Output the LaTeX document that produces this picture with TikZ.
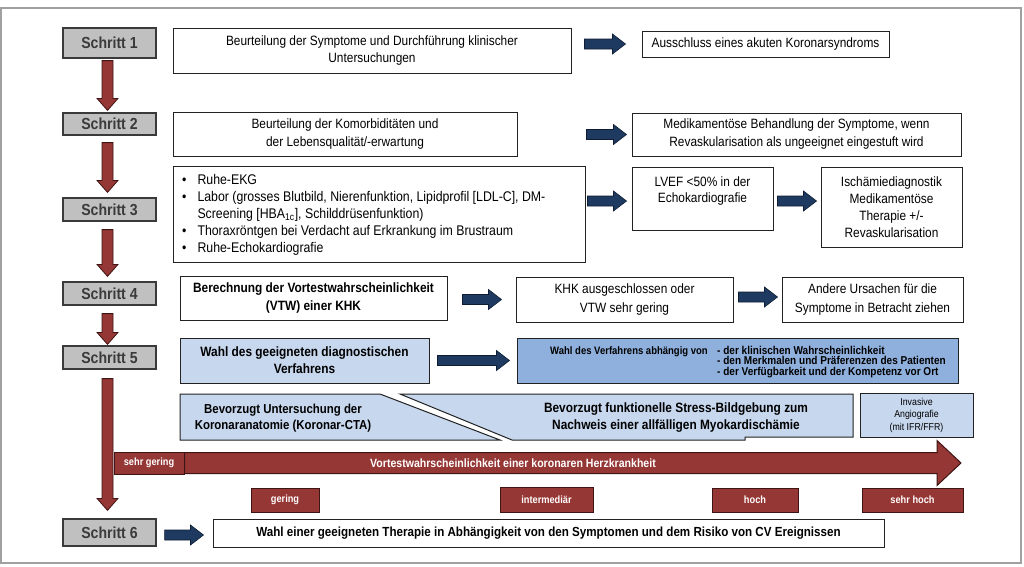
\documentclass[tikz,border=0pt]{standalone}
\usepackage{fontspec}
\setmainfont{Liberation Sans}[FakeStretch=0.88]
\usetikzlibrary{calc}
\definecolor{framec}{HTML}{A0A0A0}
\definecolor{stepfill}{HTML}{C0C0C0}
\definecolor{stepdraw}{HTML}{3A3A3A}
\definecolor{steptext}{HTML}{3A3A3A}
\definecolor{boxdraw}{HTML}{222222}
\definecolor{lblue}{HTML}{C6D7EE}
\definecolor{mblue}{HTML}{8FB0DD}
\definecolor{redf}{HTML}{953735}
\definecolor{redd}{HTML}{3F1414}
\definecolor{navy}{HTML}{1F3A60}
\definecolor{navyd}{HTML}{0E1D33}
\begin{document}
\begin{tikzpicture}[x=1pt,y=-1pt,
 schritt/.style={draw=stepdraw, fill=stepfill, line width=1.2pt, minimum width=93pt, inner sep=0pt, text=steptext, font=\fontsize{16}{18}\selectfont\bfseries},
 box/.style={draw=boxdraw, fill=white, line width=1pt, inner sep=0pt, align=center, font=\fontsize{13.5}{17}\selectfont},
 bbox/.style={box, font=\fontsize{13.5}{17}\selectfont\bfseries},
 lbbox/.style={bbox, fill=lblue},
 redbox/.style={draw=redd, fill=redf, line width=1pt, inner sep=0pt, minimum height=24pt, text=white, font=\fontsize{10.5}{12}\selectfont\bfseries},
 txt/.style={inner sep=0pt, align=center},
 fatblue/.style={fill=navy, draw=navyd, line width=0.6pt, to path={let \p1=(\tikztostart), \p2=(\tikztotarget) in
   ({\x1},{\y2+5pt}) -- ({\x2-13pt},{\y2+5pt}) -- ({\x2-13pt},{\y2+10pt}) -- ({\x2},{\y2}) -- ({\x2-13pt},{\y2-10pt}) -- ({\x2-13pt},{\y2-5pt}) -- ({\x1},{\y2-5pt}) -- cycle}},
 fatdown/.style={fill=redf, draw=redd, line width=0.8pt, to path={let \p1=(\tikztostart), \p2=(\tikztotarget) in
   ({\x1-5.5pt},{\y1}) -- ({\x1-5.5pt},{\y2+12pt}) -- ({\x1-10.5pt},{\y2+12pt}) -- ({\x1},{\y2}) -- ({\x1+10.5pt},{\y2+12pt}) -- ({\x1+5.5pt},{\y2+12pt}) -- ({\x1+5.5pt},{\y1}) -- cycle}},
 fatbig/.style={fill=redf, draw=redd, line width=1pt, to path={let \p1=(\tikztostart), \p2=(\tikztotarget) in
   ({\x1},{\y1+10.5pt}) -- ({\x2-24pt},{\y1+10.5pt}) -- ({\x2-24pt},{\y1+22.5pt}) -- ({\x2},{\y1}) -- ({\x2-24pt},{\y1-22.5pt}) -- ({\x2-24pt},{\y1-10.5pt}) -- ({\x1},{\y1-10.5pt}) -- cycle}}
]
\useasboundingbox (0,0) rectangle (1024,566);
\draw[framec, line width=1.5pt] (1,8) rectangle (1021,563);

% Schritt nodes
\node[schritt, minimum height=30pt] (s1) at (109.5,43) {Schritt 1};
\node[schritt, minimum height=22pt] (s2) at (109.5,124) {Schritt 2};
\node[schritt, minimum height=23pt] (s3) at (109.5,209.5) {Schritt 3};
\node[schritt, minimum height=23pt] (s4) at (109.5,293.5) {Schritt 4};
\node[schritt, minimum height=23pt] (s5) at (109.5,357.5) {Schritt 5};
\node[schritt, minimum height=27pt] (s6) at (109.5,532.5) {Schritt 6};

% row 1
\node[box, minimum width=398pt, minimum height=45pt] (b1) at (372,50.5) {Beurteilung der Symptome und Durchführung klinischer\\Untersuchungen};
\node[box, minimum width=247pt, minimum height=26pt] (aus) at (765.5,44) {Ausschluss eines akuten Koronarsyndroms};
% row 2
\node[box, minimum width=344pt, minimum height=44pt, font=\fontsize{13.5}{18}\selectfont] (b2) at (345,134) {Beurteilung der Komorbiditäten und\\der Lebensqualität/-erwartung};
\node[box, minimum width=329pt, minimum height=43pt, font=\fontsize{13.5}{18}\selectfont] (med) at (796.5,134.5) {Medikamentöse Behandlung der Symptome, wenn\\Revaskularisation als ungeeignet eingestuft wird};
% row 3
\node[box, minimum width=412pt, minimum height=96pt] (bul) at (379,214) {};
\node[txt, anchor=west, align=left, font=\fontsize{14}{17}\selectfont] (bulT) at (182,215) {\begin{tabular}{@{}l@{\hspace{11pt}}l@{}}
\textbullet & Ruhe-EKG\\
\textbullet & Labor (grosses Blutbild, Nierenfunktion, Lipidprofil [LDL-C], DM-\\
 & Screening [HBA\textsubscript{1c}], Schilddrüsenfunktion)\\
\textbullet & Thoraxröntgen bei Verdacht auf Erkrankung im Brustraum\\
\textbullet & Ruhe-Echokardiografie
\end{tabular}};
\node[box, minimum width=141pt, minimum height=63pt] (lvef) at (702.5,198.5) {};
\node[txt, font=\fontsize{13.5}{16}\selectfont] (lvefT) at (702.5,191) {LVEF <50\% in der\\Echokardiografie};
\node[box, minimum width=141pt, minimum height=80pt] (isch) at (891.5,207) {Ischämiediagnostik\\Medikamentöse\\Therapie +/-\\Revaskularisation};
% row 4
\node[bbox, minimum width=267pt, minimum height=44pt, font=\fontsize{13.5}{18.5}\selectfont\bfseries] (ber) at (313.5,298) {Berechnung der Vortestwahrscheinlichkeit\\(VTW) einer KHK};
\node[box, minimum width=217pt, minimum height=45pt, font=\fontsize{13.5}{18.5}\selectfont] (khk) at (624.5,299.5) {KHK ausgeschlossen oder\\VTW sehr gering};
\node[box, minimum width=181pt, minimum height=45pt, font=\fontsize{13.5}{18.5}\selectfont] (and) at (872.5,299.5) {Andere Ursachen für die\\Symptome in Betracht ziehen};
% row 5
\node[lbbox, minimum width=249pt, minimum height=45pt] (wahl) at (304.5,360.5) {Wahl des geeigneten diagnostischen\\Verfahrens};
\node[box, fill=mblue, minimum width=441pt, minimum height=45pt] (verf) at (737.5,360.5) {};
\node[txt, anchor=west, font=\fontsize{10.8}{10.5}\selectfont\bfseries] (verfA) at (550,352) {Wahl des Verfahrens abhängig von};
\node[txt, anchor=north west, align=left, font=\fontsize{11.4}{10.5}\selectfont\bfseries] (verfB) at (717,346) {- der klinischen Wahrscheinlichkeit\\- den Merkmalen und Präferenzen des Patienten\\- der Verfügbarkeit und der Kompetenz vor Ort};
% preferred procedures
\filldraw[fill=lblue, draw=boxdraw, line width=1pt] (180,394) -- (380,394) -- (500,440) -- (180,440) -- cycle;
\filldraw[fill=lblue, draw=boxdraw, line width=1pt] (400,394) -- (853,394) -- (853,437) -- (745,437) -- (745,440) -- (512,440) -- cycle;
\node[txt, font=\fontsize{13}{16.5}\selectfont\bfseries] (bevL) at (283,418) {Bevorzugt Untersuchung der\\Koronaranatomie (Koronar-CTA)};
\node[txt, font=\fontsize{13.5}{17}\selectfont\bfseries] (bevR) at (676,418) {Bevorzugt funktionelle Stress-Bildgebung zum\\Nachweis einer allfälligen Myokardischämie};
\node[box, fill=lblue, minimum width=113pt, minimum height=44pt, font=\fontsize{10}{12.5}\selectfont] (inv) at (916.5,415) {Invasive\\Angiografie\\(mit IFR/FFR)};
% probability arrow
\node[redbox, minimum width=70pt, minimum height=22pt] (sg) at (149,463) {sehr gering};
\coordinate (tip) at (961,463);
\draw[fatbig] (sg.east) to (tip);
\node[txt, text=white, font=\fontsize{12}{14}\selectfont\bfseries] (vtw) at (513,463) {Vortestwahrscheinlichkeit einer koronaren Herzkrankheit};
\node[redbox, minimum width=68pt] (ger) at (285,500) {gering};
\node[redbox, minimum width=93pt, minimum height=25pt] (int) at (546.5,499.5) {intermediär};
\node[redbox, minimum width=86pt] (hoch) at (755,500) {hoch};
\node[redbox, minimum width=101pt] (shoch) at (912.5,500) {sehr hoch};
% row 6
\node[bbox, minimum width=671pt, minimum height=28pt, font=\fontsize{13.2}{16}\selectfont\bfseries] (b6) at (548.5,533) {Wahl einer geeigneten Therapie in Abhängigkeit von den Symptomen und dem Risiko von CV Ereignissen};

% blue arrows
\draw[fatblue] ([xshift=13pt]b1.east) to ([xshift=-16pt]aus.west);
\draw[fatblue] ([xshift=69pt]b2.east) to ([xshift=-5pt]med.west);
\draw[fatblue] ([xshift=2pt]bul.east) to ([xshift=-5pt,yshift=-2.5pt]lvef.west);
\draw[fatblue] ([xshift=4pt]lvef.east) to ([xshift=-4pt,yshift=6pt]isch.west);
\draw[fatblue] ([xshift=15pt]ber.east) to ([xshift=-14pt]khk.west);
\draw[fatblue] ([xshift=5pt]khk.east) to ([xshift=-4pt,yshift=2.5pt]and.west);
\draw[fatblue] ([xshift=8pt]wahl.east) to ([xshift=-7pt]verf.west);
\draw[fatblue] ([xshift=8pt]s6.east) to ([xshift=-9pt,yshift=-2pt]b6.west);

% red down arrows
\draw[fatdown] ([xshift=-2pt,yshift=-2pt]s1.south) to ([xshift=-2pt,yshift=2pt]s2.north);
\draw[fatdown] ([xshift=-2pt,yshift=-7pt]s2.south) to ([xshift=-2pt,yshift=5pt]s3.north);
\draw[fatdown] ([xshift=-2pt,yshift=-8pt]s3.south) to ([xshift=-2pt,yshift=5pt]s4.north);
\draw[fatdown] ([xshift=-2pt,yshift=-8pt]s4.south) to ([xshift=-2pt,yshift=1pt]s5.north);
\draw[fatdown] ([xshift=-2pt,yshift=-9pt]s5.south) to ([xshift=-2pt,yshift=8pt]s6.north);
\end{tikzpicture}
\end{document}
